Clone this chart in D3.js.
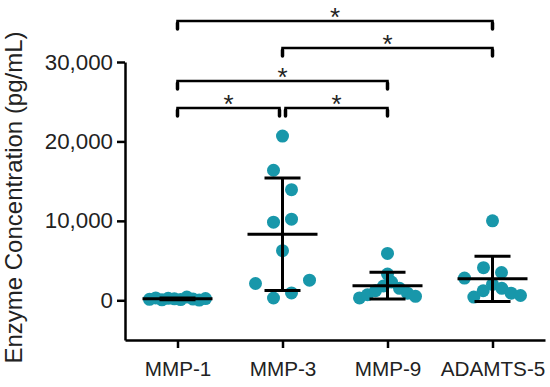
<!DOCTYPE html>
<html>
<head>
<meta charset="utf-8">
<script src="https://cdn.jsdelivr.net/npm/d3@7"></script>
<style>
  html, body { margin: 0; padding: 0; background: #fff; }
  svg { display: block; }
  text { font-family: "Liberation Sans", Arial, Helvetica, sans-serif; fill: #222; }
</style>
</head>
<body>
<svg id="chart" width="550" height="387"></svg>
<script>
// ---- data (pg/mL) ----
const categories = ["MMP-1", "MMP-3", "MMP-9", "ADAMTS-5"];
const mmp1 = [120, 300, 60, 250, 180, 90, 400, 150, 30, 220];
const mmp3 = [20670, 16370, 13930, 9830, 10210, 6250, 2110, 290, 930, 2530];
const mmp9 = [5900, 3300, 300, 700, 1200, 1800, 2300, 1500, 900, 500];
const adamts5 = [10000, 4100, 3500, 2800, 400, 1200, 2000, 1500, 900, 600];
const yTickValues = [0, 10000, 20000, 30000];
const yTickLabels = ["0", "10,000", "20,000", "30,000"];
const yTitle = "Enzyme Concentration (pg/mL)";
// significance comparisons: [group A, group B, label, bracket height (pg/mL)]
const comparisons = [
  ["MMP-1", "MMP-3", "*", 24200],
  ["MMP-3", "MMP-9", "*", 24200],
  ["MMP-1", "MMP-9", "*", 27600],
  ["MMP-3", "ADAMTS-5", "*", 31750],
  ["MMP-1", "ADAMTS-5", "*", 35150]
];

const groups = [mmp1, mmp3, mmp9, adamts5];
const dotColor = "#1897aa";

const svg = d3.select("#chart");
const y = d3.scaleLinear().domain([-5000, 30000]).range([340, 62]);
const x = d3.scalePoint().domain(categories).range([125, 545]).padding(0.5);

// ---- scatter layout (GraphPad-like binning) ----
function swarm(values, cx) {
  const items = values.map((v, i) => ({ v, i, py: y(v) }));
  const sorted = items.slice().sort((a, b) => a.v - b.v);
  const clusters = [];
  let cur = null;
  sorted.forEach(d => {
    if (!cur || cur[0].py - d.py > 20) { cur = [d]; clusters.push(cur); }
    else cur.push(d);
  });
  clusters.forEach(c => {
    c.sort((a, b) => a.i - b.i);
    const n = c.length;
    const sp = n > 1 ? Math.min(18, 56 / (n - 1)) : 0;
    c.forEach((d, k) => { d.px = cx + (k - (n - 1) / 2) * sp; });
  });
  return items;
}

const plot = svg.append("g");
groups.forEach((vals, gi) => {
  const cx = x(categories[gi]);
  const pts = swarm(vals, cx);
  plot.append("g").selectAll("circle").data(pts).join("circle")
    .attr("cx", d => d.px).attr("cy", d => d.py).attr("r", 6.5)
    .attr("fill", dotColor);
});

// mean ± SD
groups.forEach((vals, gi) => {
  const cx = x(categories[gi]);
  const m = d3.mean(vals), sd = d3.deviation(vals);
  const g = plot.append("g").attr("stroke", "#000").attr("stroke-width", 3);
  g.append("line").attr("x1", cx).attr("x2", cx).attr("y1", y(m + sd)).attr("y2", y(m - sd));
  g.append("line").attr("x1", cx - 35).attr("x2", cx + 35).attr("y1", y(m)).attr("y2", y(m));
  g.append("line").attr("x1", cx - 18).attr("x2", cx + 18).attr("y1", y(m + sd)).attr("y2", y(m + sd));
  g.append("line").attr("x1", cx - 18).attr("x2", cx + 18).attr("y1", y(m - sd)).attr("y2", y(m - sd));
});

// ---- axes ----
const yAxis = d3.axisLeft(y).tickValues(yTickValues)
  .tickFormat((d, i) => yTickLabels[i]).tickSize(8).tickSizeOuter(0).tickPadding(4);
const gy = svg.append("g").attr("transform", "translate(125,0)").call(yAxis);
gy.selectAll("text").style("font-size", "22.3px").attr("fill", "#222");

const xAxis = d3.axisBottom(x).tickSize(8).tickSizeOuter(0).tickPadding(13);
const gx = svg.append("g").attr("transform", "translate(0,340)").call(xAxis);
gx.selectAll("text").style("font-size", "20.7px").attr("fill", "#222");

[gx, gy].forEach(g => {
  g.select(".domain").attr("stroke", "#000").attr("stroke-width", 2.5);
  g.selectAll(".tick line").attr("stroke", "#000").attr("stroke-width", 2.5);
});

svg.append("text")
  .attr("transform", "translate(22,197.5) rotate(-90)")
  .attr("text-anchor", "middle")
  .style("font-size", "24px")
  .text(yTitle);

// ---- significance brackets ----
const br = svg.append("g");
comparisons.forEach((c, ci) => {
  let x1 = x(c[0]), x2 = x(c[1]);
  const ly = y(c[3]);
  const shares = (cat) => comparisons.some((o, oi) => oi !== ci && o[3] === c[3] && (o[0] === cat || o[1] === cat));
  if (shares(c[0])) x1 += 3;
  if (shares(c[1])) x2 -= 3;
  br.append("path")
    .attr("d", `M${x1},${ly + 8}V${ly}H${x2}V${ly + 8}`)
    .attr("fill", "none").attr("stroke", "#000").attr("stroke-width", 2.5);
  [x1, x2].forEach(xx => br.append("line")
    .attr("x1", xx).attr("x2", xx).attr("y1", ly + 2).attr("y2", ly + 8)
    .attr("stroke", "#000").attr("stroke-width", 3.5).attr("stroke-linecap", "round"));
  br.append("text")
    .attr("x", (x1 + x2) / 2).attr("y", ly + 5)
    .attr("text-anchor", "middle")
    .style("font-size", "26px")
    .text(c[2]);
});
</script>
</body>
</html>
